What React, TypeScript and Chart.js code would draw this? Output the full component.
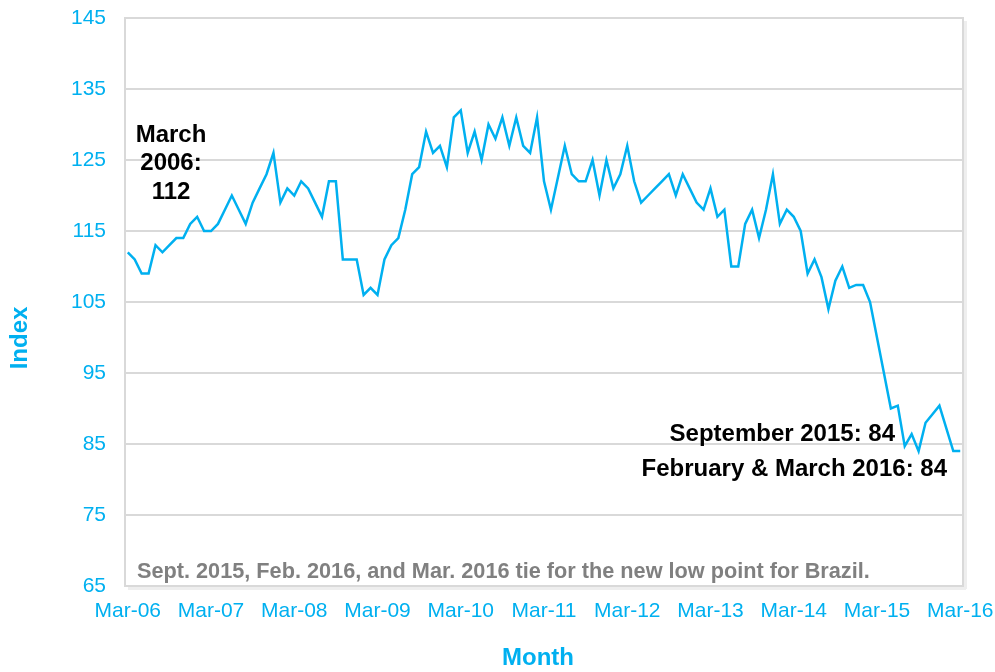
import React, { useEffect, useRef } from "react";
import { Chart, registerables } from "chart.js";

Chart.register(...registerables);

// Tick labels on the x axis (one every 12 months, starting March 2006)
const tickLabels = [
  "Mar-06", "Mar-07", "Mar-08", "Mar-09", "Mar-10", "Mar-11",
  "Mar-12", "Mar-13", "Mar-14", "Mar-15", "Mar-16",
];

// Monthly index values, March 2006 .. March 2016 (121 months)
const indexValues = [
  112, 111, 109, 109, 113, 112, 113, 114, 114, 116, 117, 115,
  115, 116, 118, 120, 118, 116, 119, 121, 123, 126, 119, 121,
  120, 122, 121, 119, 117, 122, 122, 111, 111, 111, 106, 107,
  106, 111, 113, 114, 118, 123, 124, 129, 126, 127, 124, 131,
  132, 126, 129, 125, 130, 128, 131, 127, 131, 127, 126, 131,
  122, 118, 122.5, 127, 123, 122, 122, 125, 120, 125, 121, 123,
  127, 122, 119, 120, 121, 122, 123, 120, 123, 121, 119, 118,
  121, 117, 118, 110, 110, 116, 118, 114, 118, 123, 116, 118,
  117, 115, 109, 111, 108.5, 104, 108, 110, 107, 107.4, 107.4, 105,
  100, 95, 90, 90.4, 84.7, 86.4, 84, 88, 89.2, 90.4, 87.2, 84,
  84,
];

const yTicks = [65, 75, 85, 95, 105, 115, 125, 135, 145];

const BLUE = "#00B0F0";
const GRID = "#d9d9d9";
const FONT = "'Liberation Sans', Arial, Helvetica, sans-serif";

const decor = {
  id: "decor",
  beforeDraw(chart: any) {
    const { ctx, chartArea: a } = chart;
    ctx.save();
    ctx.fillStyle = "#ffffff";
    ctx.fillRect(0, 0, chart.width, chart.height);
    // soft shadow of the plot frame
    ctx.fillStyle = "#eeeeee";
    ctx.fillRect(a.left + 3, a.bottom + 1, a.width, 3);
    ctx.fillRect(a.right + 1, a.top + 3, 3, a.height);
    ctx.restore();
  },
  afterDraw(chart: any) {
    const { ctx, chartArea: a } = chart;
    ctx.save();
    ctx.strokeStyle = GRID;
    ctx.lineWidth = 2;
    ctx.strokeRect(a.left, a.top, a.width, a.height);

    ctx.fillStyle = "#000000";
    ctx.font = `bold 24px ${FONT}`;
    ctx.textBaseline = "middle";
    ctx.textAlign = "center";
    ctx.fillText("March", 171, 135);
    ctx.fillText("2006:", 171, 163);
    ctx.fillText("112", 171, 192);
    ctx.textAlign = "right";
    ctx.fillText("September 2015: 84", 895, 434);
    ctx.fillText("February & March 2016: 84", 947, 469);

    ctx.fillStyle = "#808080";
    ctx.font = `bold 21.7px ${FONT}`;
    ctx.textAlign = "left";
    ctx.fillText(
      "Sept. 2015, Feb. 2016, and Mar. 2016 tie for the new low point for Brazil.",
      137,
      572
    );

    ctx.fillStyle = BLUE;
    ctx.font = `bold 24px ${FONT}`;
    ctx.textAlign = "center";
    ctx.fillText("Month", 538, 658);
    ctx.translate(20, 338);
    ctx.rotate(-Math.PI / 2);
    ctx.fillText("Index", 0, 0);
    ctx.restore();
  },
};

export default function App() {
  const ref = useRef<HTMLCanvasElement | null>(null);

  useEffect(() => {
    if (!ref.current) return;
    const chart = new Chart(ref.current, {
      type: "line",
      data: {
        datasets: [
          {
            data: indexValues.map((v, i) => ({ x: i, y: v })),
            borderColor: BLUE,
            borderWidth: 2.5,
            pointRadius: 0,
            tension: 0,
            fill: false,
          },
        ],
      },
      options: {
        animation: false,
        responsive: false,
        maintainAspectRatio: false,
        layout: { padding: { top: 18, right: 32, left: 0, bottom: 0 } },
        plugins: { legend: { display: false }, tooltip: { enabled: false } },
        scales: {
          x: {
            type: "linear",
            min: -0.4,
            max: 120.4,
            afterBuildTicks: (scale: any) => {
              scale.ticks = tickLabels.map((_, k) => ({ value: k * 12 }));
            },
            afterFit: (scale: any) => {
              scale.height = 86;
              scale.paddingLeft = 0;
              scale.paddingRight = 0;
            },
            grid: { display: false, drawTicks: false },
            border: { display: false },
            ticks: {
              autoSkip: false,
              maxRotation: 0,
              padding: 13,
              color: BLUE,
              font: { family: FONT, size: 21 },
              callback: (v: any) => tickLabels[Math.round(v / 12)] ?? "",
            },
          },
          y: {
            min: 65,
            max: 145,
            afterBuildTicks: (scale: any) => {
              scale.ticks = yTicks.map((v) => ({ value: v }));
            },
            afterFit: (scale: any) => {
              scale.width = 125;
              scale.paddingTop = 0;
              scale.paddingBottom = 0;
            },
            grid: { color: GRID, lineWidth: 2, drawTicks: false },
            border: { display: false },
            ticks: {
              padding: 19,
              color: BLUE,
              font: { family: FONT, size: 21 },
            },
          },
        },
      },
      plugins: [decor],
    });
    return () => chart.destroy();
  }, []);

  return (
    <div style={{ position: "fixed", left: 0, top: 0, width: 995, height: 672, background: "#fff" }}>
      <canvas ref={ref} width={995} height={672} style={{ width: 995, height: 672, display: "block" }} />
    </div>
  );
}
